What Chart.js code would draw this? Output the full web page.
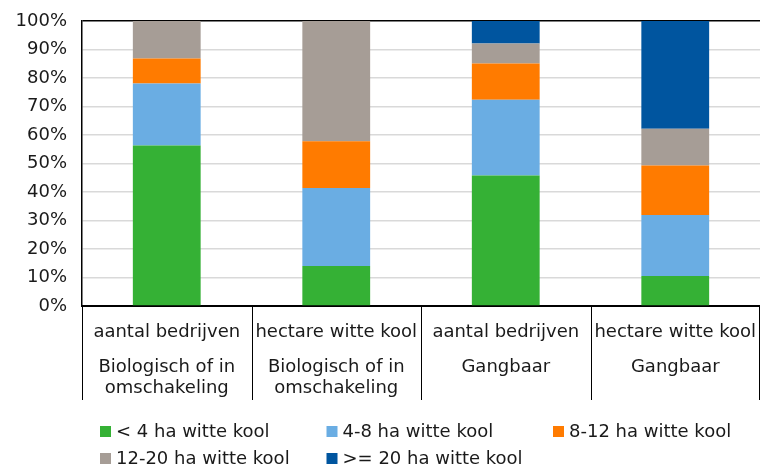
<!DOCTYPE html>
<html>
<head>
<meta charset="utf-8">
<script src="https://cdn.jsdelivr.net/npm/chart.js@4/dist/chart.umd.min.js"></script>
<style>
  html, body { margin: 0; padding: 0; background: #fff; }
  #wrap { width: 760px; height: 466px; }
</style>
</head>
<body>
<div id="wrap"><canvas id="chart" width="760" height="466"></canvas></div>
<script>
const categories = ["aantal bedrijven", "hectare witte kool", "aantal bedrijven", "hectare witte kool"];
const groupLabels = [
  ["Biologisch of in", "omschakeling"],
  ["Biologisch of in", "omschakeling"],
  ["Gangbaar"],
  ["Gangbaar"]
];
const seriesNames = ["< 4 ha witte kool", "4-8 ha witte kool", "8-12 ha witte kool", "12-20 ha witte kool", ">= 20 ha witte kool"];
const lt4 = [56.3, 14.0, 45.8, 10.5];
const ha4to8 = [21.8, 27.4, 26.6, 21.4];
const ha8to12 = [8.7, 16.4, 12.7, 17.4];
const ha12to20 = [13.2, 42.2, 7.0, 12.9];
const ge20 = [0, 0, 7.9, 37.8];
const colors = ["#35b135", "#6aade3", "#ff7b00", "#a69d96", "#00559f"];

const FONT = "'DejaVu Sans', Verdana, sans-serif";
const TXT = "#1a1a1a";

// tweede niveau van de x-as + scheidingslijnen
const groupAxis = {
  id: "groupAxis",
  afterDraw(chart) {
    const ctx = chart.ctx;
    const x = chart.scales.x;
    const area = chart.chartArea;
    const half = (x.getPixelForValue(1) - x.getPixelForValue(0)) / 2;
    ctx.save();
    ctx.strokeStyle = "#000";
    ctx.lineWidth = 1;
    for (let i = 0; i <= categories.length; i++) {
      let px = Math.round(x.getPixelForValue(0) - half + i * half * 2) + 0.5;
      if (px > chart.width) px = chart.width - 0.5;
      ctx.beginPath();
      ctx.moveTo(px, area.bottom);
      ctx.lineTo(px, area.bottom + 94);
      ctx.stroke();
    }
    ctx.fillStyle = TXT;
    ctx.font = "18px " + FONT;
    ctx.textAlign = "center";
    ctx.textBaseline = "middle";
    groupLabels.forEach((lines, i) => {
      const cx = x.getPixelForValue(i);
      lines.forEach((line, j) => {
        ctx.fillText(line, cx, area.bottom + 61 + j * 21.5);
      });
    });
    ctx.restore();
  }
};

// legenda in kolommen
const gridLegend = {
  id: "gridLegend",
  afterDraw(chart) {
    const ctx = chart.ctx;
    ctx.save();
    ctx.font = "18px " + FONT;
    ctx.textBaseline = "middle";
    ctx.textAlign = "left";
    chart.data.datasets.forEach((ds, i) => {
      const col = i % 3, row = Math.floor(i / 3);
      const x0 = 100 + col * 226.5;
      const y0 = 431 + row * 27;
      ctx.fillStyle = ds.backgroundColor;
      ctx.fillRect(x0, y0 - 5, 11, 11);
      ctx.fillStyle = TXT;
      ctx.fillText(ds.label, x0 + 16, y0 + 1);
    });
    ctx.restore();
  }
};

const values = [lt4, ha4to8, ha8to12, ha12to20, ge20];

new Chart(document.getElementById("chart"), {
  type: "bar",
  data: {
    labels: categories,
    datasets: seriesNames.map((name, i) => ({
      label: name,
      data: values[i],
      backgroundColor: colors[i],
      borderWidth: 0,
      barPercentage: 0.4,
      categoryPercentage: 1
    }))
  },
  options: {
    responsive: false,
    animation: false,
    layout: { padding: { top: 21, right: 0, bottom: 60, left: 0 } },
    plugins: {
      legend: { display: false },
      tooltip: { enabled: false }
    },
    scales: {
      x: {
        stacked: true,
        grid: { display: false },
        border: { color: "#000", width: 2 },
        ticks: {
          color: TXT,
          font: { family: FONT, size: 18 },
          autoSkip: false,
          maxRotation: 0,
          minRotation: 0,
          padding: 8
        },
        afterFit(scale) {
          scale.height = 100;
          scale.paddingLeft = 0;
          scale.paddingRight = 0;
        }
      },
      y: {
        stacked: true,
        min: 0,
        max: 100,
        grid: {
          color: ctx => ctx.tick && ctx.tick.value === 100 ? "#000" : "#d9d9d9",
          lineWidth: 1.5,
          drawTicks: false
        },
        border: { color: "#000", width: 1.5 },
        ticks: {
          stepSize: 10,
          color: TXT,
          font: { family: FONT, size: 18 },
          padding: 15,
          callback: v => v + "%"
        },
        afterFit(scale) {
          scale.width = 82;
          scale.paddingTop = 0;
          scale.paddingBottom = 0;
        }
      }
    }
  },
  plugins: [groupAxis, gridLegend]
});
</script>
</body>
</html>
